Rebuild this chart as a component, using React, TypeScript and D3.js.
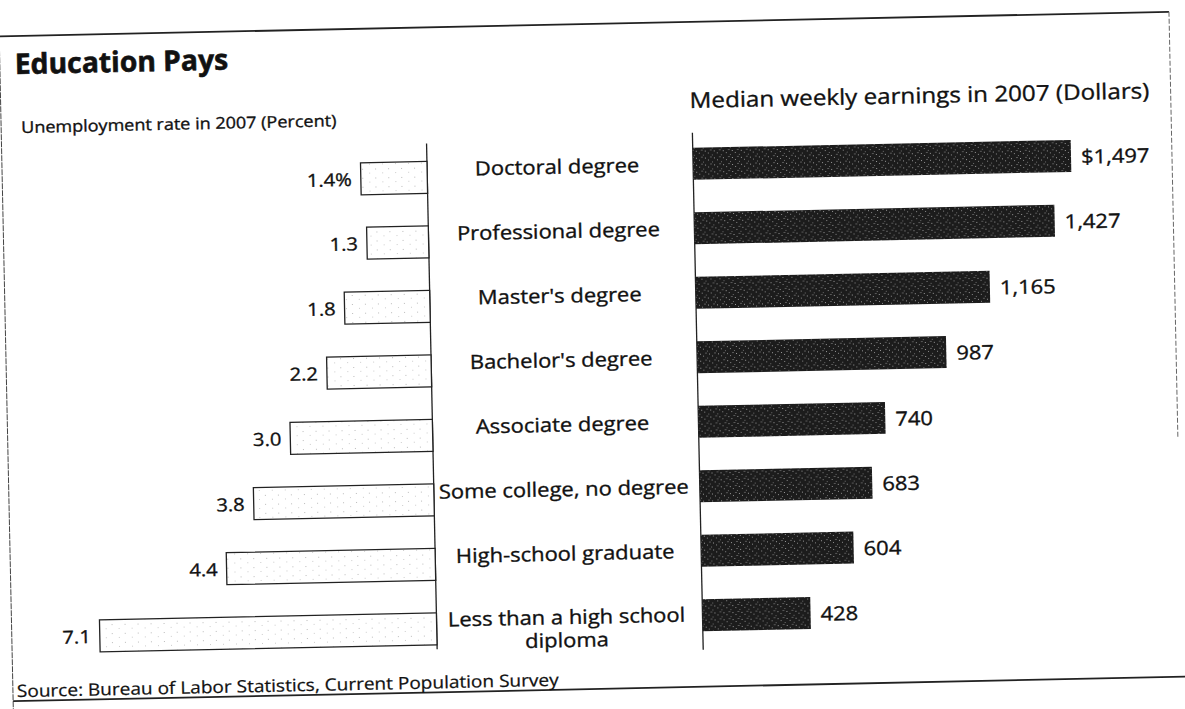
import React from "react";
import * as d3 from "d3";

const categories = [
  "Doctoral degree",
  "Professional degree",
  "Master's degree",
  "Bachelor's degree",
  "Associate degree",
  "Some college, no degree",
  "High-school graduate",
  "Less than a high school diploma",
];
const categoryLines = [
  ["Doctoral degree"],
  ["Professional degree"],
  ["Master's degree"],
  ["Bachelor's degree"],
  ["Associate degree"],
  ["Some college, no degree"],
  ["High-school graduate"],
  ["Less than a high school", "diploma"],
];
const unemployment = [1.4, 1.3, 1.8, 2.2, 3.0, 3.8, 4.4, 7.1];
const unemploymentLabels = ["1.4%", "1.3", "1.8", "2.2", "3.0", "3.8", "4.4", "7.1"];
const earnings = [1497, 1427, 1165, 987, 740, 683, 604, 428];
const earningsLabels = ["$1,497", "1,427", "1,165", "987", "740", "683", "604", "428"];

const title = "Education Pays";
const leftTitle = "Unemployment rate in 2007 (Percent)";
const rightTitle = "Median weekly earnings in 2007 (Dollars)";
const source = "Source: Bureau of Labor Statistics, Current Population Survey";

const W = 1185;
const H = 709;
const FONT = "'Open Sans', 'Noto Sans', sans-serif";
const SX = 1.12;

export default function App() {
  const rows = d3.scalePoint<string>().domain(categories).range([166, 617.5]);
  const leftAxisX = 431;
  const rightAxisX = 697;
  const xLeft = d3.scaleLinear().domain([0, 7.1]).range([leftAxisX, leftAxisX - 337]);
  const xRight = d3.scaleLinear().domain([0, 1500]).range([rightAxisX, rightAxisX + 378.8]);
  const barH = 32;
  const leftOffset = 8;

  const T = (x: number, y: number, sx = SX) => `translate(${x},${y}) scale(${sx},1)`;
  const ink = { fill: "#111", stroke: "#111", strokeWidth: 0.35 };

  return (
    <svg
      width={W}
      height={H}
      style={{ position: "absolute", left: 0, top: 0, background: "#fff" }}
      fontFamily={FONT}
    >
      <defs>
        <pattern id="speckDark" width="9" height="7" patternUnits="userSpaceOnUse">
          <rect width="9" height="7" fill="#1c1c1c" />
          <rect x="1" y="1" width="1" height="1" fill="#8a8a8a" />
          <rect x="5" y="3" width="1" height="1" fill="#6e6e6e" />
          <rect x="3" y="5" width="2" height="1" fill="#5a5a5a" />
          <rect x="7" y="6" width="1" height="1" fill="#999" />
        </pattern>
        <pattern id="speckLight" width="13" height="9" patternUnits="userSpaceOnUse">
          <rect width="13" height="9" fill="#fff" />
          <rect x="2" y="2" width="1" height="1" fill="#bbb" />
          <rect x="9" y="6" width="1" height="1" fill="#ccc" />
        </pattern>
      </defs>
      <g transform="rotate(-1.2, 592, 354)">
        {/* frame */}
        <line x1={6} y1={24} x2={1176} y2={24} stroke="#222" strokeWidth={1.8} />
        <line x1={6} y1={24} x2={6} y2={720} stroke="#444" strokeWidth={1} strokeDasharray="6 1" />
        <line x1={1176} y1={24} x2={1176} y2={450} stroke="#666" strokeWidth={1} strokeDasharray="5 2" />
        <line x1={6} y1={689} x2={1200} y2={689} stroke="#222" strokeWidth={1.8} />

        {/* titles */}
        <text transform={T(21, 62, 1.0)} fontSize={28.3} fontWeight={700} fill="#111" stroke="#111" strokeWidth={0.6}>
          {title}
        </text>
        <text transform={T(26, 121)} fontSize={16.1} {...ink}>
          {leftTitle}
        </text>
        <text transform={T(695, 110)} fontSize={21.6} {...ink}>
          {rightTitle}
        </text>

        {/* axes */}
        <line x1={leftAxisX} y1={140} x2={leftAxisX} y2={646} stroke="#222" strokeWidth={1.3} />
        <line x1={rightAxisX} y1={135} x2={rightAxisX} y2={652} stroke="#222" strokeWidth={1.3} />

        {/* left bars */}
        {categories.map((c, i) => {
          const cy = (rows(c) as number) + leftOffset;
          const x0 = xLeft(unemployment[i]);
          return (
            <g key={"l" + c}>
              <rect
                x={x0}
                y={cy - barH / 2}
                width={leftAxisX - x0}
                height={barH}
                fill="url(#speckLight)"
                stroke="#222"
                strokeWidth={1.3}
              />
              <text transform={T(x0 - 9, cy + 7)} fontSize={18} textAnchor="end" {...ink}>
                {unemploymentLabels[i]}
              </text>
            </g>
          );
        })}

        {/* category labels */}
        {categories.map((c, i) => {
          const cy = rows(c) as number;
          const lines = categoryLines[i];
          return (
            <g key={"c" + c}>
              {lines.map((ln, j) => (
                <text
                  key={ln}
                  transform={T(561, cy + (lines.length > 1 ? 6 : 7) + j * 23)}
                  fontSize={19.6}
                  textAnchor="middle"
                  {...ink}
                >
                  {ln}
                </text>
              ))}
            </g>
          );
        })}

        {/* right bars */}
        {categories.map((c, i) => {
          const cy = rows(c) as number;
          const x1 = xRight(earnings[i]);
          return (
            <g key={"r" + c}>
              <rect
                x={rightAxisX}
                y={cy - barH / 2}
                width={x1 - rightAxisX}
                height={barH}
                fill="url(#speckDark)"
              />
              <text transform={T(x1 + 10, cy + 8)} fontSize={19.6} {...ink}>
                {earningsLabels[i]}
              </text>
            </g>
          );
        })}

        {/* source */}
        <text transform={T(10, 685)} fontSize={17} {...ink} strokeWidth={0.25}>
          {source}
        </text>
      </g>
    </svg>
  );
}
